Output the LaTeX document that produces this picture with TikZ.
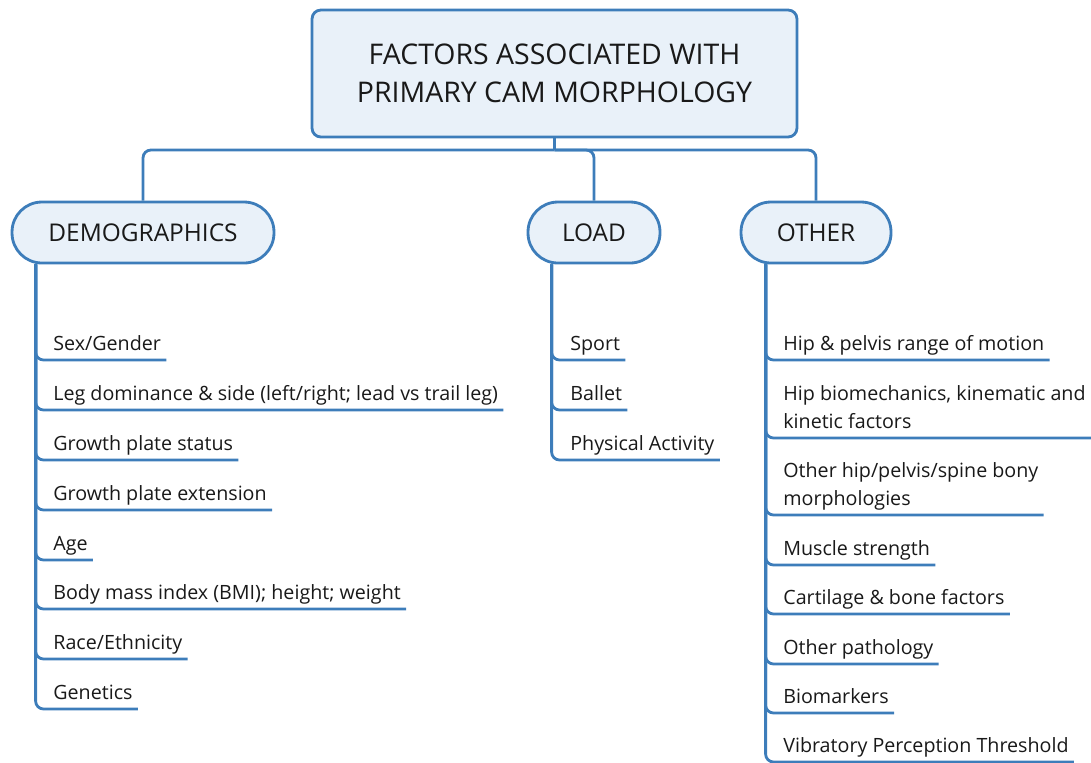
\documentclass[tikz,border=0pt]{standalone}
\usepackage{fontspec}
\setmainfont{Open Sans}
\usetikzlibrary{positioning}

\definecolor{mapblue}{HTML}{3D7DBA}
\definecolor{mapfill}{HTML}{E9F1F9}

\begin{document}
\begin{tikzpicture}[
    x=0.02cm, y=-0.02cm,
    % Estilos de las cajas
    titlebox/.style={draw=mapblue, line width=1.6pt, fill=mapfill, rounded corners=5pt,
        minimum width=9.7cm, minimum height=2.54cm, align=center,
        font=\fontsize{16.2}{21.6}\selectfont, text=black!90},
    pillbox/.style={draw=mapblue, line width=1.6pt, fill=mapfill, rounded corners=17pt,
        minimum height=1.22cm, font=\fontsize{13.9}{16}\selectfont, text=black!90},
    % Estilos para los textos y conectores
    item/.style={anchor=south west, inner xsep=0pt, inner ysep=5.1pt, text depth=0pt,
        align=left, font=\fontsize{11.2}{16}\selectfont, text=black!90},
    link/.style={draw=mapblue, line width=1.6pt, rounded corners=4.5pt}
]
\useasboundingbox (0,0) rectangle (1091,762);

% --- TITLE ---
\node[titlebox] (title) at (554.5, 73.5) {FACTORS ASSOCIATED WITH\\PRIMARY CAM MORPHOLOGY};

% --- GROUPS ---
\node[pillbox, minimum width=5.24cm] (demo) at (143, 232.5) {DEMOGRAPHICS};
\node[pillbox, minimum width=2.64cm] (load) at (594, 232.5) {LOAD};
\node[pillbox, minimum width=3.0cm] (other) at (816, 232.5) {OTHER};

\coordinate (hub) at (554.5, 150);
\draw[link] (title.south) -- (hub);
\draw[link] (hub) -| (demo.north);
\draw[link] (hub) -| (load.north);
\draw[link] (hub) -| (other.north);

% --- DEMOGRAPHICS ---
\node[item] (d1) at (53, 360) {Sex/Gender};
\node[item] (d2) at (53, 410) {Leg dominance \& side (left/right; lead vs trail leg)};
\node[item] (d3) at (53, 460) {Growth plate status};
\node[item] (d4) at (53, 510) {Growth plate extension};
\node[item] (d5) at (53, 560) {Age};
\node[item] (d6) at (53, 609) {Body mass index (BMI); height; weight};
\node[item] (d7) at (53, 659) {Race/Ethnicity};
\node[item] (d8) at (53, 709) {Genetics};
\coordinate (dtrunk) at ([xshift=0.5cm]demo.south west);
\foreach \i in {1,...,8}
  \draw[link] (dtrunk) |- ([xshift=0.1cm]d\i.south east);

% --- LOAD ---
\node[item] (l1) at (570, 360) {Sport};
\node[item] (l2) at (570, 410) {Ballet};
\node[item] (l3) at (570, 460) {Physical Activity};
\coordinate (ltrunk) at ([xshift=0.5cm]load.south west);
\foreach \i in {1,...,3}
  \draw[link] (ltrunk) |- ([xshift=0.1cm]l\i.south east);

% --- OTHER ---
\node[item] (o1) at (783, 360) {Hip \& pelvis range of motion};
\node[item] (o2) at (783, 438) {Hip biomechanics, kinematic and\\kinetic factors};
\node[item] (o3) at (783, 515) {Other hip/pelvis/spine bony\\morphologies};
\node[item] (o4) at (783, 565) {Muscle strength};
\node[item] (o5) at (783, 614) {Cartilage \& bone factors};
\node[item] (o6) at (783, 664) {Other pathology};
\node[item] (o7) at (783, 713) {Biomarkers};
\node[item] (o8) at (783, 762) {Vibratory Perception Threshold};
\coordinate (otrunk) at ([xshift=0.52cm]other.south west);
\foreach \i in {1,...,8}
  \draw[link] (otrunk) |- ([xshift=0.1cm]o\i.south east);

\end{tikzpicture}
\end{document}
